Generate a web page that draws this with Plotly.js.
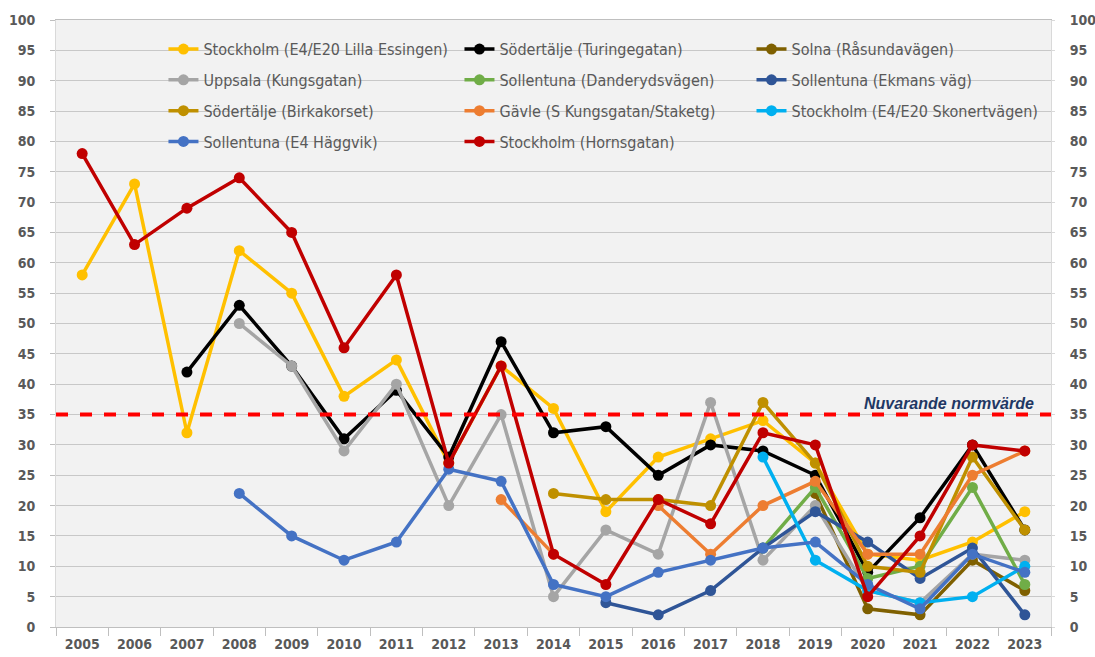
<!DOCTYPE html>
<html>
<head>
<meta charset="utf-8">
<script src="https://cdn.plot.ly/plotly-3.0.1.min.js"></script>
<style>html,body{margin:0;padding:0;background:#fff;}#chart{width:1095px;height:657px;}</style>
</head>
<body>
<div id="chart"></div>
<script>
const years = ["2005","2006","2007","2008","2009","2010","2011","2012","2013","2014","2015","2016","2017","2018","2019","2020","2021","2022","2023"];

const stockholmLillaEssingen = [58,73,32,62,55,38,44,27,43,36,19,28,31,34,27,12,11,14,19];
const sodertaljeTuringegatan = [null,null,42,53,43,31,39,28,47,32,33,25,30,29,25,9,18,30,16];
const solnaRasundavagen      = [null,null,null,null,null,null,null,null,null,null,null,null,null,null,22,3,2,11,6];
const uppsalaKungsgatan      = [null,null,null,50,43,29,40,20,35,5,16,12,37,11,20,6,4,12,11];
const sollentunaDanderyd     = [null,null,null,null,null,null,null,null,null,null,null,null,null,13,23,8,10,23,7];
const sollentunaEkmans       = [null,null,null,null,null,null,null,null,null,null,4,2,6,13,19,14,8,13,2];
const sodertaljeBirkakorset  = [null,null,null,null,null,null,null,null,null,22,21,21,20,37,27,10,9,28,16];
const gavleKungsgatan        = [null,null,null,null,null,null,null,null,21,12,null,20,12,20,24,12,12,25,29];
const stockholmSkonertvagen  = [null,null,null,null,null,null,null,null,null,null,null,null,null,28,11,6,4,5,10];
const sollentunaHaggvik      = [null,null,null,22,15,11,14,26,24,7,5,9,11,13,14,7,3,12,9];
const stockholmHornsgatan    = [78,63,69,74,65,46,58,27,43,12,7,21,17,32,30,5,15,30,29];

const normValue = 35;
const normLabel = "Nuvarande normvärde";
const yTicks = [0,5,10,15,20,25,30,35,40,45,50,55,60,65,70,75,80,85,90,95,100];

// legend: which legend column each series is listed in
const series = [
  {name:"Stockholm (E4/E20 Lilla Essingen)", y:stockholmLillaEssingen, color:"#ffc000", legend:"legend"},
  {name:"Södertälje (Turingegatan)", y:sodertaljeTuringegatan, color:"#000000", legend:"legend2"},
  {name:"Solna (Råsundavägen)", y:solnaRasundavagen, color:"#7f6000", legend:"legend3"},
  {name:"Uppsala (Kungsgatan)", y:uppsalaKungsgatan, color:"#a5a5a5", legend:"legend"},
  {name:"Sollentuna (Danderydsvägen)", y:sollentunaDanderyd, color:"#70ad47", legend:"legend2"},
  {name:"Sollentuna (Ekmans väg)", y:sollentunaEkmans, color:"#2f5597", legend:"legend3"},
  {name:"Södertälje (Birkakorset)", y:sodertaljeBirkakorset, color:"#bf9000", legend:"legend"},
  {name:"Gävle (S Kungsgatan/Staketg)", y:gavleKungsgatan, color:"#ed7d31", legend:"legend2"},
  {name:"Stockholm (E4/E20 Skonertvägen)", y:stockholmSkonertvagen, color:"#00b0f0", legend:"legend3"},
  {name:"Sollentuna (E4 Häggvik)", y:sollentunaHaggvik, color:"#4472c4", legend:"legend"},
  {name:"Stockholm (Hornsgatan)", y:stockholmHornsgatan, color:"#c00000", legend:"legend2"}
];

const traces = series.map((s, i) => ({
  type:"scatter", mode:"lines+markers", name:s.name, x:years, y:s.y,
  yaxis: i === series.length - 1 ? "y2" : "y",
  legend:s.legend, legendgroup:"g"+i,
  line:{color:s.color, width:3.5}, marker:{color:s.color, size:11},
  connectgaps:false, hoverinfo:"skip"
}));

const tickFont = {family:"'Liberation Sans Narrow','DejaVu Sans Condensed','Liberation Sans',sans-serif", size:14, color:"#595959", weight:"bold"};
const legFont = {family:"'Liberation Sans Narrow','DejaVu Sans Condensed','Liberation Sans',sans-serif", size:16, color:"#595959"};
function leg(x){
  return {orientation:"v", x:x, y:0.98, xanchor:"left", yanchor:"top", bgcolor:"rgba(0,0,0,0)",
    font:legFont, itemwidth:30, tracegroupgap:7};
}

const layout = {
  width:1095, height:657,
  margin:{l:56, r:44, t:20, b:30},
  paper_bgcolor:"#ffffff", plot_bgcolor:"#f2f2f2",
  showlegend:true,
  legend:leg(0.108), legend2:leg(0.4055), legend3:leg(0.699),
  xaxis:{type:"category", range:[-0.5,18.5], tickson:"boundaries", ticks:"outside", ticklen:8, tickcolor:"#bfbfbf",
    ticklabelstandoff:4,
    showline:true, linecolor:"#bfbfbf", linewidth:1, mirror:true, showgrid:false, tickfont:tickFont},
  yaxis:{range:[0,100], tickvals:yTicks, showgrid:true, gridcolor:"#c8c8c8", gridwidth:1, showline:true, linecolor:"#d9d9d9", mirror:true,
    zeroline:false, tickfont:tickFont, ticks:"outside", ticklen:5, tickcolor:"#bfbfbf", ticklabelstandoff:12},
  yaxis2:{range:[0,100], tickvals:yTicks, overlaying:"y", side:"right", showgrid:false, zeroline:false, tickfont:tickFont,
    showline:false, ticks:"outside", ticklen:3, tickcolor:"#d9d9d9", ticklabelstandoff:12},
  shapes:[{type:"line", xref:"paper", x0:0, x1:1, yref:"y", y0:normValue, y1:normValue,
    line:{color:"#ff0000", width:4, dash:"dash"}}],
  annotations:[{text:"<b><i>"+normLabel+"</i></b>", xref:"paper", x:0.985, xanchor:"right", yref:"y", y:normValue, yanchor:"bottom", yshift:1,
    showarrow:false, font:{family:"'Liberation Sans',Arial,sans-serif", size:16, color:"#1f3864"}}]
};

Plotly.newPlot("chart", traces, layout, {staticPlot:true, displayModeBar:false});
</script>
</body>
</html>
